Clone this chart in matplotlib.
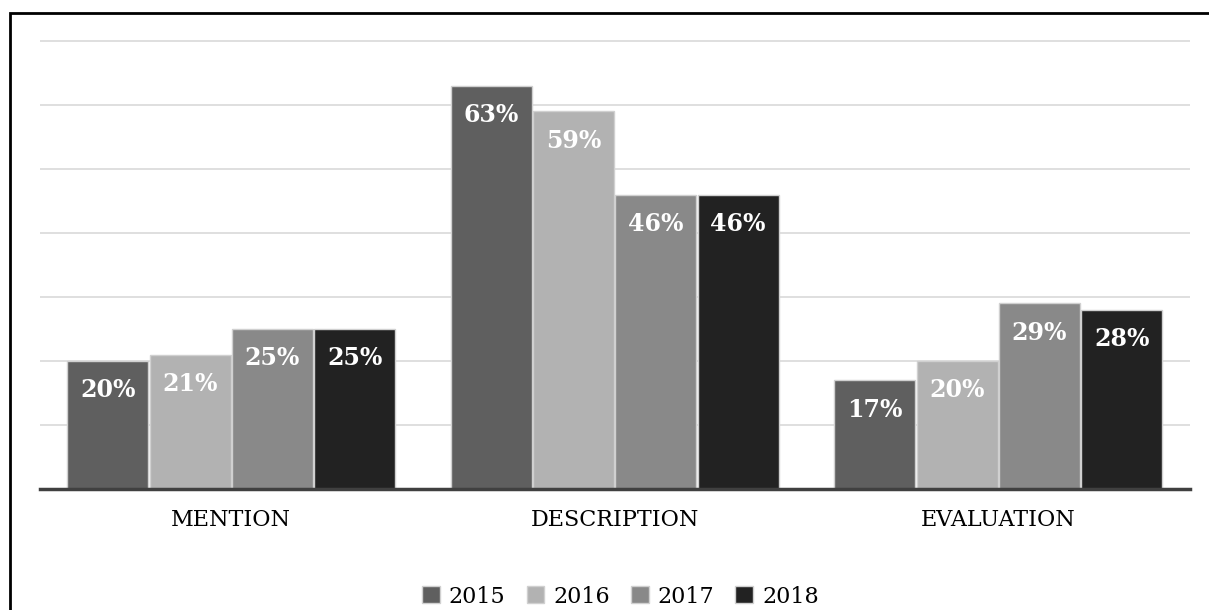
import matplotlib
matplotlib.use("Agg")
import matplotlib.pyplot as plt
import numpy as np
from matplotlib.patches import Rectangle

# datos
categorias = ["MENTION", "DESCRIPTION", "EVALUATION"]
anios = ["2015", "2016", "2017", "2018"]
v2015 = [20, 63, 17]
v2016 = [21, 59, 20]
v2017 = [25, 46, 29]
v2018 = [25, 46, 28]
series = [v2015, v2016, v2017, v2018]
colores = ["#5f5f5f", "#b2b2b2", "#898989", "#222222"]

plt.rcParams["font.family"] = ["DejaVu Serif"]

fig = plt.figure(figsize=(12.09, 6.10), dpi=100)
# ylim hasta 71 para que la linea de 70 no quede recortada
ax = fig.add_axes([0.0327, 0.1984, 0.9516, 0.7449])

x = np.arange(len(categorias))
ancho = 0.2145
for k, (vals, col) in enumerate(zip(series, colores)):
    pos = x + (k - 1.5) * ancho
    barras = ax.bar(pos, vals, ancho * 0.985, color=col, edgecolor="#d0d0d0",
                    linewidth=1, label=anios[k], zorder=3)
    for b, v in zip(barras, vals):
        ax.text(b.get_x() + b.get_width() / 2, v - 4.6, f"{v}%", ha="center",
                va="center", color="white", fontsize=17, fontweight="bold", zorder=4)

ax.set_xlim(-0.5, 2.5)
ax.set_ylim(0, 71)
ax.set_yticks(np.arange(10, 71, 10))
ax.yaxis.grid(True, color="#d9d9d9", linewidth=1.2, zorder=0)
ax.tick_params(axis="y", left=False, labelleft=False)
ax.tick_params(axis="x", bottom=False, labelsize=16, pad=11)
ax.set_xticks(x)
ax.set_xticklabels(categorias)
for s in ["top", "right", "left"]:
    ax.spines[s].set_visible(False)
ax.spines["bottom"].set_color("#404040")
ax.spines["bottom"].set_linewidth(2.5)
ax.spines["bottom"].set_zorder(5)

ax.legend(loc="center", bbox_to_anchor=(0.505, -0.237), ncol=4, frameon=False,
          fontsize=16, handlelength=0.8, handleheight=0.8, handletextpad=0.4,
          columnspacing=0.95)

# borde del grafico (solo izquierda y arriba visibles)
fig.patches.append(Rectangle((10 / 1209, -0.1), 1.2, 1 - 13 / 610 + 0.1,
                             transform=fig.transFigure, fill=False,
                             edgecolor="black", linewidth=2))

fig.savefig("out.png", dpi=100)
